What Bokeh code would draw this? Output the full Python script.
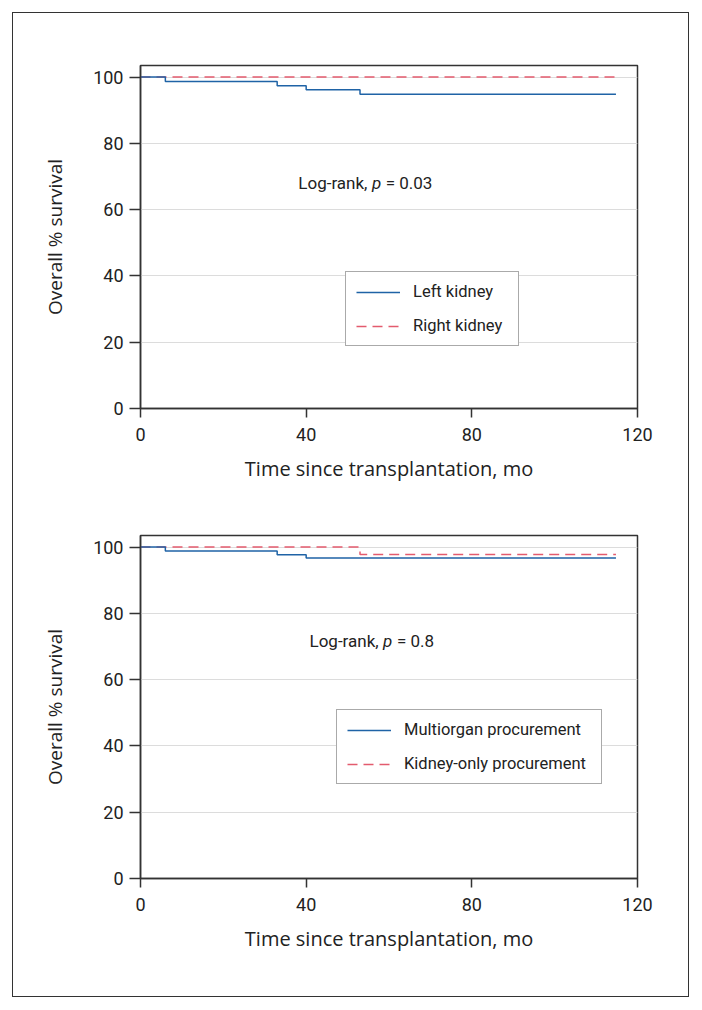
from bokeh.plotting import figure
from bokeh.models import Range1d, Legend, LegendItem, Label, FixedTicker
from bokeh.layouts import column
from bokeh.embed import file_html
from bokeh.resources import INLINE

# ---- data ----
x_ticks = [0, 40, 80, 120]
y_ticks = [0, 20, 40, 60, 80, 100]

time_left = [0, 6, 33, 40, 53, 114.8]
surv_left = [100, 98.7, 97.4, 96.2, 94.8, 94.8]
time_right = [0, 114.8]
surv_right = [100, 100]

time_multi = [0, 6, 33, 40, 114.8]
surv_multi = [100, 98.8, 97.7, 96.7, 96.7]
time_konly = [0, 53, 114.8]
surv_konly = [100, 97.8, 97.8]

labels_top = ["Left kidney", "Right kidney"]
labels_bottom = ["Multiorgan procurement", "Kidney-only procurement"]
pvalue_top = "0.03"
pvalue_bottom = "0.8"

BLUE = "#1f63a6"
RED = "#e35b6e"
DARK = "#333333"


def make_fig(height, min_top, min_bottom):
    p = figure(width=675, height=height,
               x_range=Range1d(0, 120), y_range=Range1d(0, 103.5),
               output_backend="svg", toolbar_location=None,
               min_border_left=127, min_border_right=51,
               min_border_top=min_top, min_border_bottom=min_bottom)
    p.background_fill_color = "white"
    p.border_fill_color = "white"
    p.outline_line_color = DARK
    p.outline_line_width = 1.5
    p.xgrid.visible = False
    p.ygrid.grid_line_color = "#dcdcdc"
    p.ygrid.grid_line_width = 1
    p.xaxis.ticker = FixedTicker(ticks=x_ticks)
    p.yaxis.ticker = FixedTicker(ticks=y_ticks)
    for ax in (p.xaxis[0], p.yaxis[0]):
        ax.axis_line_color = DARK
        ax.axis_line_width = 1.5
        ax.major_tick_line_color = DARK
        ax.major_tick_line_width = 1.5
        ax.major_tick_in = 0
        ax.minor_tick_line_color = None
        ax.major_label_text_font = "Roboto"
        ax.major_label_text_font_size = "18px"
        ax.major_label_text_color = "#222222"
        ax.axis_label_text_font = "Open Sans"
        ax.axis_label_text_font_style = "normal"
        ax.axis_label_text_color = "#222222"
    p.xaxis.major_tick_out = 9
    p.yaxis.major_tick_out = 11
    p.xaxis.major_label_standoff = 10
    p.yaxis.major_label_standoff = 6
    p.xaxis.axis_label = "Time since transplantation, mo"
    p.xaxis.axis_label_text_font_size = "20px"
    p.xaxis.axis_label_standoff = 11
    p.yaxis.axis_label = "Overall % survival"
    p.yaxis.axis_label_text_font_size = "19px"
    p.yaxis.axis_label_standoff = 22
    return p


def add_pvalue(p, x, y, pv):
    common = dict(x=x, y=y, text_baseline="middle", text_font="Roboto",
                  text_font_size="17px", text_color="#222222")
    p.add_layout(Label(text="Log-rank,", **common))
    p.add_layout(Label(text="p", x_offset=73.6, text_font_style="italic", **common))
    p.add_layout(Label(text="= " + pv, x_offset=87.4, **common))


def add_legend(p, items, loc, label_width):
    lg = Legend(items=items, location=loc, glyph_width=44, glyph_height=18,
                label_height=18, label_width=label_width, label_standoff=13,
                spacing=15, padding=10, border_line_color="#555555",
                border_line_width=1, background_fill_color="white",
                background_fill_alpha=1.0, label_text_font="Roboto",
                label_text_font_size="16.5px", label_text_color="#222222",
                margin=0)
    p.add_layout(lg)


# ---- top panel ----
p1 = make_fig(491, 52, 96)
r_right = p1.step(time_right, surv_right, mode="after", line_color=RED,
                  line_width=1.5, line_dash="10 6")
r_left = p1.step(time_left, surv_left, mode="after", line_color=BLUE,
                 line_width=1.5)
add_pvalue(p1, 38.1, 67.9, pvalue_top)
add_legend(p1, [LegendItem(label=labels_top[0], renderers=[r_left]),
                LegendItem(label=labels_top[1], renderers=[r_right])],
           (205, 62), 95)

# ---- bottom panel ----
p2 = make_fig(492, 31, 118)
r_konly = p2.step(time_konly, surv_konly, mode="after", line_color=RED,
                  line_width=1.5, line_dash="10 6")
r_multi = p2.step(time_multi, surv_multi, mode="after", line_color=BLUE,
                  line_width=1.5)
add_pvalue(p2, 40.8, 71.6, pvalue_bottom)
add_legend(p2, [LegendItem(label=labels_bottom[0], renderers=[r_multi]),
                LegendItem(label=labels_bottom[1], renderers=[r_konly])],
           (196, 94), 187)

layout = column(p1, p2, styles={"border": "1.5px solid #333333"},
                margin=(12, 0, 0, 12))

open("out.html", "w").write(file_html(layout, INLINE))
